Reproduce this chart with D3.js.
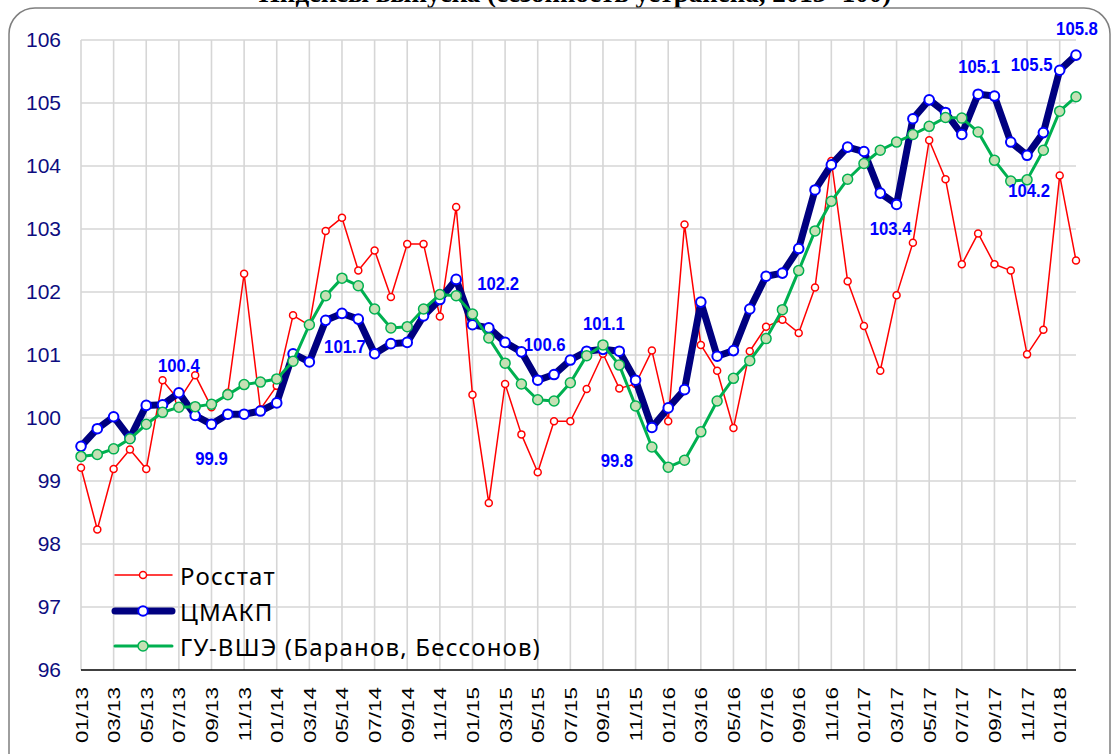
<!DOCTYPE html>
<html>
<head>
<meta charset="utf-8">
<script src="https://cdn.jsdelivr.net/npm/d3@7"></script>
<style>
  html, body { margin: 0; padding: 0; background: #fff; }
  svg { display: block; }
</style>
</head>
<body>
<svg id="chart" width="1112" height="754"></svg>
<script>
// ---- data ----
const months = [
  "01/13","02/13","03/13","04/13","05/13","06/13","07/13","08/13","09/13","10/13","11/13","12/13",
  "01/14","02/14","03/14","04/14","05/14","06/14","07/14","08/14","09/14","10/14","11/14","12/14",
  "01/15","02/15","03/15","04/15","05/15","06/15","07/15","08/15","09/15","10/15","11/15","12/15",
  "01/16","02/16","03/16","04/16","05/16","06/16","07/16","08/16","09/16","10/16","11/16","12/16",
  "01/17","02/17","03/17","04/17","05/17","06/17","07/17","08/17","09/17","10/17","11/17","12/17",
  "01/18","02/18"
];
const rosstat = [
  99.21, 98.23, 99.19, 99.50, 99.19, 100.60, 100.28, 100.68, 100.17, 100.40,
  102.29, 100.14, 100.51, 101.63, 101.47, 102.97, 103.18, 102.34, 102.66, 101.92,
  102.76, 102.76, 101.61, 103.35, 100.37, 98.65, 100.54, 99.74, 99.14, 99.95,
  99.95, 100.46, 101.02, 100.47, 100.54, 101.07, 99.95, 103.07, 101.16, 100.75,
  99.84, 101.06, 101.45, 101.56, 101.35, 102.07, 104.08, 102.17, 101.46, 100.75,
  101.95, 102.78, 104.41, 103.79, 102.44, 102.93, 102.44, 102.34, 101.01, 101.40,
  103.85, 102.50
];
const cmakp = [
  99.55, 99.83, 100.02, 99.68, 100.20, 100.21, 100.40, 100.04, 99.90, 100.06,
  100.06, 100.11, 100.24, 101.02, 100.89, 101.55, 101.66, 101.57, 101.02, 101.18,
  101.20, 101.62, 101.88, 102.20, 101.48, 101.43, 101.20, 101.05, 100.60, 100.69,
  100.92, 101.06, 101.09, 101.06, 100.60, 99.85, 100.16, 100.45, 101.84, 100.98,
  101.07, 101.73, 102.25, 102.30, 102.69, 103.62, 104.02, 104.30, 104.23, 103.57,
  103.39, 104.75, 105.05, 104.85, 104.50, 105.14, 105.11, 104.38, 104.17, 104.53,
  105.52, 105.76
];
const hse = [
  99.39, 99.42, 99.51, 99.67, 99.90, 100.09, 100.17, 100.18, 100.22, 100.37,
  100.53, 100.57, 100.62, 100.90, 101.48, 101.94, 102.22, 102.10, 101.73, 101.43,
  101.45, 101.73, 101.96, 101.94, 101.65, 101.27, 100.87, 100.54, 100.29, 100.27,
  100.56, 100.99, 101.16, 100.84, 100.19, 99.54, 99.22, 99.33, 99.78, 100.27,
  100.63, 100.91, 101.26, 101.72, 102.34, 102.97, 103.44, 103.79, 104.04, 104.25,
  104.38, 104.50, 104.63, 104.77, 104.76, 104.54, 104.09, 103.76, 103.78, 104.25,
  104.87, 105.10
];
const yTicks = [96, 97, 98, 99, 100, 101, 102, 103, 104, 105, 106];
const seriesNames = ["Росстат", "ЦМАКП", "ГУ-ВШЭ (Баранов, Бессонов)"];
const titleText = "Индексы выпуска (сезонность устранена, 2013=100)";
// labelled ЦМАКП points (month) and their label text
const labelMonths = ["07/13","09/13","05/14","12/14","05/15","09/15","12/15","03/17","08/17","11/17","01/18","02/18"];
const labelTexts  = ["100.4","99.9","101.7","102.2","100.6","101.1","99.8","103.4","105.1","104.2","105.5","105.8"];

// ---- layout / style (not data) ----
const labelOffsets = [[0,-27],[0,34],[3,33],[42,4],[7,-36],[1,-26],[-35,33],[-6,24],[1,-28],[2,35],[-28,-6],[1,-26]];

const svg = d3.select("#chart");
const x = d3.scalePoint().domain(months).range([81, 1076]);
const y = d3.scaleLinear().domain([96, 106]).range([670, 40]);

// title (mostly cut off at top, as in the reference)
svg.append("text")
  .attr("x", 575).attr("y", 2)
  .attr("text-anchor", "middle")
  .attr("font-family", "Liberation Serif, serif")
  .attr("font-weight", "bold")
  .attr("font-size", 27)
  .attr("fill", "#000")
  .text(titleText);

// chart border
svg.append("rect")
  .attr("x", 9).attr("y", 8).attr("width", 1101).attr("height", 820)
  .attr("rx", 26).attr("ry", 26)
  .attr("fill", "none").attr("stroke", "#7f7f7f").attr("stroke-width", 1.5);

// gridlines
const grid = svg.append("g");
grid.selectAll("line.h").data(yTicks.filter(d => d > 96)).join("line")
  .attr("x1", x.range()[0]).attr("x2", x.range()[1])
  .attr("y1", d => y(d)).attr("y2", d => y(d))
  .attr("stroke", "#d6d6d6").attr("stroke-width", 1.6);
const gridMonths = months.filter((m, i) => i % 2 === 0);
grid.selectAll("line.v").data(gridMonths).join("line")
  .attr("x1", d => x(d)).attr("x2", d => x(d))
  .attr("y1", y(106)).attr("y2", y(96))
  .attr("stroke", "#d6d6d6").attr("stroke-width", 1.6);

// x axis
const xAxis = d3.axisBottom(x).tickValues(gridMonths).tickSize(0).tickPadding(0);
const gx = svg.append("g").attr("transform", `translate(0,${y(96)})`).call(xAxis);
gx.select(".domain").attr("stroke", "#000").attr("stroke-width", 1.5)
  .attr("d", `M${x.range()[0]},0H${x.range()[1]}`);
gx.selectAll(".tick text")
  .attr("font-family", "Liberation Sans, Arial, sans-serif")
  .attr("font-size", 17)
  .attr("fill", "#000")
  .attr("text-anchor", "end")
  .attr("dy", null)
  .attr("y", 0)
  .attr("transform", "translate(6,17) rotate(-90) scale(1.32,1)");

// y axis
const yAxis = d3.axisLeft(y).tickValues(yTicks).tickSize(0).tickPadding(0).tickFormat(d3.format("d"));
const gy = svg.append("g").attr("transform", "translate(61,0)").call(yAxis);
gy.select(".domain").remove();
gy.selectAll(".tick text")
  .attr("font-family", "Liberation Sans, Arial, sans-serif")
  .attr("font-size", 21)
  .attr("fill", "#0d0d80");

// series
const line = d3.line().x((d, i) => x(months[i])).y(d => y(d));
const series = [
  { name: seriesNames[0], values: rosstat, color: "#ff0000", width: 1.5, r: 3.5, fill: "#ffffff", mstroke: "#ff0000", mw: 1.5 },
  { name: seriesNames[1], values: cmakp,   color: "#000080", width: 7,   r: 4.8, fill: "#ffffff", mstroke: "#0000ff", mw: 2 },
  { name: seriesNames[2], values: hse,     color: "#00b050", width: 3,   r: 5,   fill: "#c5e0b4", mstroke: "#00b050", mw: 1.5 }
];
series.forEach(s => {
  const g = svg.append("g");
  g.append("path").datum(s.values)
    .attr("d", line)
    .attr("fill", "none")
    .attr("stroke", s.color)
    .attr("stroke-width", s.width)
    .attr("stroke-linejoin", "round")
    .attr("stroke-linecap", "round");
  g.selectAll("circle").data(s.values).join("circle")
    .attr("cx", (d, i) => x(months[i]))
    .attr("cy", d => y(d))
    .attr("r", s.r)
    .attr("fill", s.fill)
    .attr("stroke", s.mstroke)
    .attr("stroke-width", s.mw);
});

// data labels on ЦМАКП (condensed bold)
svg.append("g").selectAll("text").data(labelMonths).join("text")
  .attr("transform", (m, i) =>
    `translate(${x(m) + labelOffsets[i][0]},${y(cmakp[months.indexOf(m)]) + labelOffsets[i][1]}) scale(0.88,1)`)
  .attr("text-anchor", "middle")
  .attr("dominant-baseline", "central")
  .attr("font-family", "Liberation Sans, Arial, sans-serif")
  .attr("font-weight", "bold")
  .attr("font-size", 19)
  .attr("fill", "#0000ff")
  .text((m, i) => labelTexts[i]);

// legend
const legendY = [575, 611, 646];
const lg = svg.append("g");
series.forEach((s, i) => {
  const yy = legendY[i];
  lg.append("line")
    .attr("x1", 115).attr("x2", 172).attr("y1", yy).attr("y2", yy)
    .attr("stroke", s.color).attr("stroke-width", s.width)
    .attr("stroke-linecap", "round");
  lg.append("circle").attr("cx", 143).attr("cy", yy).attr("r", s.r)
    .attr("fill", s.fill).attr("stroke", s.mstroke).attr("stroke-width", s.mw);
  lg.append("text")
    .attr("x", 180).attr("y", yy)
    .attr("dominant-baseline", "central")
    .attr("font-family", "Noto Sans, sans-serif")
    .attr("font-size", 24)
    .attr("letter-spacing", 1.2)
    .attr("fill", "#000")
    .text(s.name);
});
</script>
</body>
</html>
